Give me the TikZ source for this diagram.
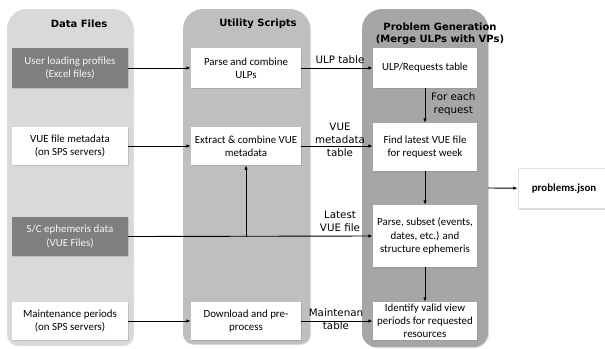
\documentclass[tikz,border=0pt]{standalone}
\usepackage{fontspec}
\setmainfont{Carlito}
\newfontfamily\lblfont{DejaVu Sans}
\usetikzlibrary{arrows.meta,shadows}
\definecolor{colA}{HTML}{D9D9D9}
\definecolor{colB}{HTML}{BFBFBF}
\definecolor{colC}{HTML}{A6A6A6}
\definecolor{darkbox}{HTML}{7F7F7F}
\begin{document}
\begin{tikzpicture}[x=1bp,y=-1bp,
  colpanel/.style={drop shadow={shadow xshift=1bp,shadow yshift=-1bp,opacity=0.25}},
  box/.style={draw=none,fill=white,align=center,inner sep=1bp,
    font=\fontsize{10.9bp}{13.2bp}\selectfont,
    drop shadow={shadow xshift=1bp,shadow yshift=-1.2bp,opacity=0.3}},
  darkb/.style={box,fill=darkbox,text=white!92!gray},
  hdr/.style={font=\lblfont\bfseries\fontsize{10bp}{12bp}\selectfont,align=center,inner sep=0pt},
  lbl/.style={font=\lblfont\fontsize{10.3bp}{13bp}\selectfont,align=center,inner sep=0pt},
  arr/.style={line width=0.9bp,-{Latex[length=4.5bp,width=3.5bp]}},
  ln/.style={line width=0.9bp}]
\useasboundingbox (0,0) rectangle (605,348);
\clip (0,0) rectangle (605,348);
% columns
\fill[colA,colpanel] (7,180) [rounded corners=20bp] -- (7,9) -- (133,9) -- (133,180) [rounded corners=10bp] -- (133,345) -- (7,345) -- cycle;
\fill[colB,colpanel] (183,180) [rounded corners=20bp] -- (183,9) -- (310,9) -- (310,180) [rounded corners=10bp] -- (310,344) -- (183,344) -- cycle;
\fill[colC,colpanel] (362,180) [rounded corners=20bp] -- (362,9) -- (488,9) -- (488,180) [rounded corners=14bp] -- (488,347) -- (362,347) -- cycle;
\coordinate (pgout) at (488,188);
% headers
\node[hdr] (h1) at (79,24) {Data Files};
\node[hdr] (h2) at (258,24) {Utility Scripts};
\node[hdr] (h3) at (440,33.5) {Problem Generation\\(Merge ULPs with VPs)};
% data files
\node[darkb,minimum width=116bp,minimum height=40bp] (ulpsrc) at (70,68) {User loading profiles\\(Excel files)};
\node[box,minimum width=116bp,minimum height=38bp] (vuemeta) at (70,146) {VUE file metadata\\(on SPS servers)};
\node[darkb,minimum width=116bp,minimum height=39bp] (ephem) at (70,236.5) {S/C ephemeris data\\(VUE Files)};
\node[box,minimum width=116bp,minimum height=38bp] (maint) at (70,321) {Maintenance periods\\(on SPS servers)};
% utility
\node[box,minimum width=110bp,minimum height=40bp] (parse) at (246,68) {Parse and combine\\ULPs};
\node[box,minimum width=110bp,minimum height=38bp] (extract) at (246,146) {Extract \& combine VUE\\metadata};
\node[box,minimum width=110bp,minimum height=38bp] (download) at (246,321) {Download and pre-\\process};
% problem generation
\node[box,minimum width=104bp,minimum height=40bp] (ulpreq) at (425,68) {ULP/Requests table};
\node[box,minimum width=104bp,minimum height=48bp] (findlatest) at (425,147) {Find latest VUE file\\for request week};
\node[box,minimum width=104bp,minimum height=62bp] (parsesub) at (425,236) {Parse, subset (events,\\dates, etc.) and\\structure ephemeris};
\node[box,minimum width=104bp,minimum height=38bp] (identify) at (425,321) {Identify valid view\\periods for requested\\resources};
\node[box,draw=black!12,minimum width=92bp,minimum height=40bp,font=\bfseries\fontsize{10.9bp}{13bp}\selectfont] (pjson) at (564,188.5) {problems.json};
% connectors
\draw[arr] (ulpsrc) -- (parse);
\draw[arr] (vuemeta) -- (extract);
\draw[arr] (maint) -- (download);
\draw[arr] (parse) -- (ulpreq);
\draw[arr] (extract.east) -- (findlatest.west |- extract.east);
\draw[arr] (ulpreq) -- (findlatest);
\draw[arr] (findlatest) -- (parsesub);
\draw[arr] (parsesub) -- (identify);
\draw[arr] (ephem.east) -- (parsesub.west);
\coordinate (jn) at (extract.south |- ephem.east);
\draw[arr] (jn) -- (extract.south);
\draw[arr] (download) -- (identify);
\draw[arr] (pgout) -- (pjson);
% labels
\node[lbl] (l1) at (340,60) {ULP table};
\node[lbl] (l2) at (340,140) {VUE\\metadata\\table};
\node[lbl] (l3) at (340,221) {Latest\\VUE file};
\node[lbl] (l4) at (336,319) {Maintenan\\table};
\node[lbl,anchor=west] (l5) at (431,104) {For each\\request};
\end{tikzpicture}
\end{document}
